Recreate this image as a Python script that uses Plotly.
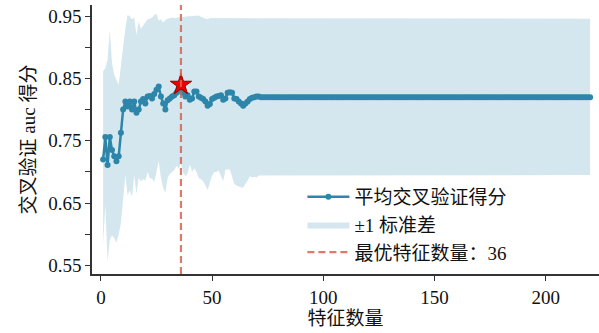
import plotly.graph_objects as go

# ---- data ----
n_features_early = list(range(1, 73))
mean_early = [0.720, 0.756, 0.711, 0.756, 0.735, 0.725, 0.717, 0.725, 0.763, 0.800,
              0.813, 0.805, 0.813, 0.800, 0.813, 0.795, 0.800, 0.813, 0.817, 0.810,
              0.821, 0.822, 0.818, 0.825, 0.832, 0.837, 0.821, 0.810, 0.800, 0.815,
              0.818, 0.821, 0.823, 0.827, 0.830, 0.840, 0.827, 0.821, 0.823, 0.816,
              0.818, 0.829, 0.829, 0.821, 0.819, 0.817, 0.813, 0.806, 0.809, 0.817,
              0.819, 0.821, 0.822, 0.823, 0.816, 0.818, 0.827, 0.828, 0.827, 0.818,
              0.817, 0.813, 0.810, 0.806, 0.810, 0.813, 0.817, 0.819, 0.820, 0.821,
              0.821, 0.820]
upper_early = [0.862, 0.867, 0.880, 0.928, 0.875, 0.856, 0.848, 0.840, 0.870, 0.905,
               0.931, 0.952, 0.950, 0.945, 0.948, 0.920, 0.942, 0.930, 0.935, 0.940,
               0.945, 0.946, 0.948, 0.952, 0.954, 0.943, 0.945, 0.940, 0.944, 0.946,
               0.947, 0.948, 0.947, 0.948, 0.948, 0.948, 0.949, 0.950, 0.950, 0.950,
               0.950, 0.950, 0.951, 0.951, 0.949, 0.947, 0.946, 0.945, 0.947, 0.947,
               0.947, 0.947, 0.947, 0.947, 0.947, 0.947, 0.947, 0.947, 0.947, 0.947,
               0.947, 0.947, 0.947, 0.947, 0.946, 0.946, 0.946, 0.946, 0.946, 0.946,
               0.946, 0.946]
lower_early = [0.583, 0.647, 0.556, 0.591, 0.598, 0.594, 0.586, 0.600, 0.618, 0.660,
               0.695, 0.663, 0.670, 0.660, 0.694, 0.665, 0.690, 0.685, 0.688, 0.686,
               0.700, 0.690, 0.689, 0.684, 0.700, 0.717, 0.690, 0.675, 0.666, 0.690,
               0.697, 0.700, 0.703, 0.710, 0.705, 0.714, 0.700, 0.693, 0.698, 0.712,
               0.700, 0.706, 0.700, 0.690, 0.688, 0.685, 0.678, 0.671, 0.682, 0.694,
               0.700, 0.700, 0.702, 0.695, 0.685, 0.704, 0.704, 0.704, 0.692, 0.680,
               0.679, 0.677, 0.675, 0.675, 0.680, 0.686, 0.693, 0.691, 0.692, 0.691,
               0.694, 0.695]
n_features_plateau = list(range(73, 221))
plateau_mean = 0.820
plateau_upper = 0.946
plateau_lower = 0.695

n_features = n_features_early + n_features_plateau
mean_score = mean_early + [plateau_mean] * len(n_features_plateau)
upper_band = upper_early + [plateau_upper] * len(n_features_plateau)
lower_band = lower_early + [plateau_lower] * len(n_features_plateau)

best_k = 36
best_score = mean_score[n_features.index(best_k)]

x_ticks = [0, 50, 100, 150, 200]
y_ticks = [0.55, 0.60, 0.65, 0.70, 0.75, 0.80, 0.85, 0.90, 0.95]
y_tick_text = ["0.55", "", "0.65", "", "0.75", "", "0.85", "", "0.95"]

label_line = "平均交叉验证得分"
label_band = "±1 标准差"
label_best = f"最优特征数量：{best_k}"
x_title = "特征数量"
y_title = "交叉验证 auc 得分"

# ---- styles ----
FONT = "Liberation Serif, 'Noto Sans CJK SC', serif"
LINE_COLOR = "#2E86AB"
BAND_COLOR = "rgba(46,134,171,0.2)"
VLINE_COLOR = "rgba(214,100,80,0.85)"
AXIS_COLOR = "#333333"

fig = go.Figure()

fig.add_trace(go.Scatter(
    x=n_features, y=mean_score, mode="lines+markers", name=label_line,
    line=dict(color=LINE_COLOR, width=2.5),
    marker=dict(color=LINE_COLOR, size=6),
    legendrank=1,
))
fig.add_trace(go.Scatter(
    x=n_features + n_features[::-1], y=upper_band + lower_band[::-1],
    fill="toself", fillcolor=BAND_COLOR, line=dict(width=0, color=BAND_COLOR),
    mode="lines", name=label_band, legendrank=2, hoverinfo="skip",
))
fig.add_vline(x=best_k, line=dict(color=VLINE_COLOR, width=2.2, dash="7px,4px"))
fig.add_trace(go.Scatter(
    x=[None], y=[None], mode="lines", name=label_best,
    line=dict(color=VLINE_COLOR, width=2.2, dash="7px,4px"), legendrank=3,
))
fig.add_trace(go.Scatter(
    x=[best_k], y=[best_score], mode="markers", showlegend=False,
    marker=dict(symbol="star", size=16, color="#ee0000",
                line=dict(color="#8b0000", width=1)),
))

fig.update_layout(
    width=599, height=333,
    margin=dict(l=92, r=0, t=5, b=59, autoexpand=False),
    paper_bgcolor="white", plot_bgcolor="white",
    font=dict(family=FONT, size=19, color="#111111"),
    showlegend=True,
    legend=dict(x=0.415, y=0.357, xanchor="left", yanchor="top",
                bgcolor="rgba(0,0,0,0)", font=dict(family=FONT, size=19),
                traceorder="normal", itemwidth=42),
)
fig.update_xaxes(
    range=[-4, 224], tickvals=x_ticks, ticks="outside", ticklen=5, tickwidth=1.3,
    tickcolor=AXIS_COLOR, showline=True, linecolor=AXIS_COLOR, linewidth=1.5,
    showgrid=False, zeroline=False, automargin=False,
    title=dict(text=x_title, standoff=5, font=dict(family=FONT, size=19)),
    tickfont=dict(family=FONT, size=19),
)
fig.update_yaxes(
    range=[0.536, 0.968], tickvals=y_ticks, ticktext=y_tick_text, ticks="outside",
    ticklen=5, tickwidth=1.3, tickcolor=AXIS_COLOR, showline=True,
    linecolor=AXIS_COLOR, linewidth=1.5, showgrid=False, zeroline=False,
    automargin=False,
    title=dict(text=y_title, standoff=8, font=dict(family=FONT, size=19)),
    tickfont=dict(family=FONT, size=19),
)

fig.write_html("out.html", config={"displayModeBar": False},
               post_script="document.body.style.margin='0px';")
